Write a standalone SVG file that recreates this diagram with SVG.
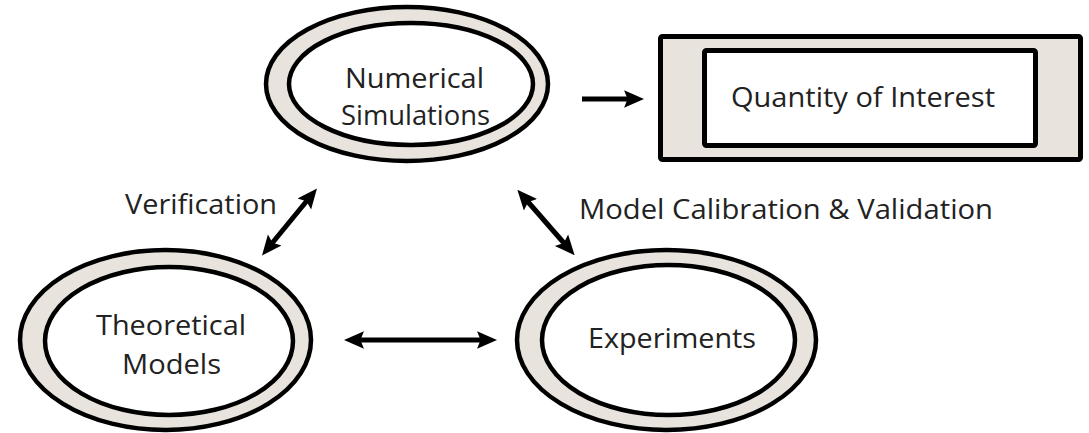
<svg xmlns="http://www.w3.org/2000/svg" width="1089" height="433" viewBox="0 0 1089 433">
<style>
.outer{fill:#e8e4dd;stroke:#000;stroke-width:4.5}
.inner{fill:#fff;stroke:#000;stroke-width:4.5}
.t{font-family:"Open Sans","Liberation Sans",sans-serif;font-size:28px;fill:#222}
.c{stroke:#000;stroke-width:5;fill:none}
</style>
<defs>
<marker id="ah" markerUnits="userSpaceOnUse" markerWidth="20" markerHeight="20" viewBox="0 0 17 16" refX="11" refY="8" orient="auto-start-reverse">
<path d="M0,0.5 L17,8 L0,15.5 L3,8 z" fill="#000"/>
</marker>
</defs>
<rect width="1089" height="433" fill="#fff"/>
<g id="numerical">
<ellipse class="outer" cx="407" cy="84" rx="141" ry="77"/>
<ellipse class="inner" cx="411" cy="84" rx="122" ry="61"/>
<text class="t" x="345" y="88" textLength="139" lengthAdjust="spacingAndGlyphs">Numerical</text>
<text class="t" x="341" y="125" textLength="149" lengthAdjust="spacingAndGlyphs">Simulations</text>
</g>
<g id="qoi">
<rect x="660.5" y="36.5" width="420" height="123" rx="2" fill="#e8e4dd" stroke="#000" stroke-width="5"/>
<rect x="704.5" y="50.5" width="331" height="95" rx="2" fill="#fff" stroke="#000" stroke-width="5"/>
<text class="t" x="731" y="107" textLength="264" lengthAdjust="spacingAndGlyphs">Quantity of Interest</text>
</g>
<g id="theoretical">
<ellipse class="outer" cx="165.5" cy="340" rx="145.5" ry="90"/>
<ellipse class="inner" cx="169" cy="341" rx="124" ry="74"/>
<text class="t" x="96" y="335" textLength="150" lengthAdjust="spacingAndGlyphs">Theoretical</text>
<text class="t" x="122" y="374" textLength="99" lengthAdjust="spacingAndGlyphs">Models</text>
</g>
<g id="experiments">
<ellipse class="outer" cx="666.5" cy="340" rx="149.5" ry="90"/>
<ellipse class="inner" cx="668.5" cy="340" rx="126.5" ry="75"/>
<text class="t" x="588" y="348" textLength="168" lengthAdjust="spacingAndGlyphs">Experiments</text>
</g>
<g id="labels">
<text class="t" x="125" y="214" textLength="152" lengthAdjust="spacingAndGlyphs">Verification</text>
<text class="t" x="579" y="219" textLength="414" lengthAdjust="spacingAndGlyphs">Model Calibration &amp; Validation</text>
</g>
<g id="connectors">
<line class="c" x1="582" y1="99" x2="637" y2="99" marker-end="url(#ah)"/>
<line class="c" x1="266.5" y1="250" x2="312.5" y2="194" marker-start="url(#ah)" marker-end="url(#ah)"/>
<line class="c" x1="522" y1="195" x2="570" y2="250" marker-start="url(#ah)" marker-end="url(#ah)"/>
<line class="c" x1="351" y1="340" x2="490" y2="340" marker-start="url(#ah)" marker-end="url(#ah)"/>
</g>
</svg>
